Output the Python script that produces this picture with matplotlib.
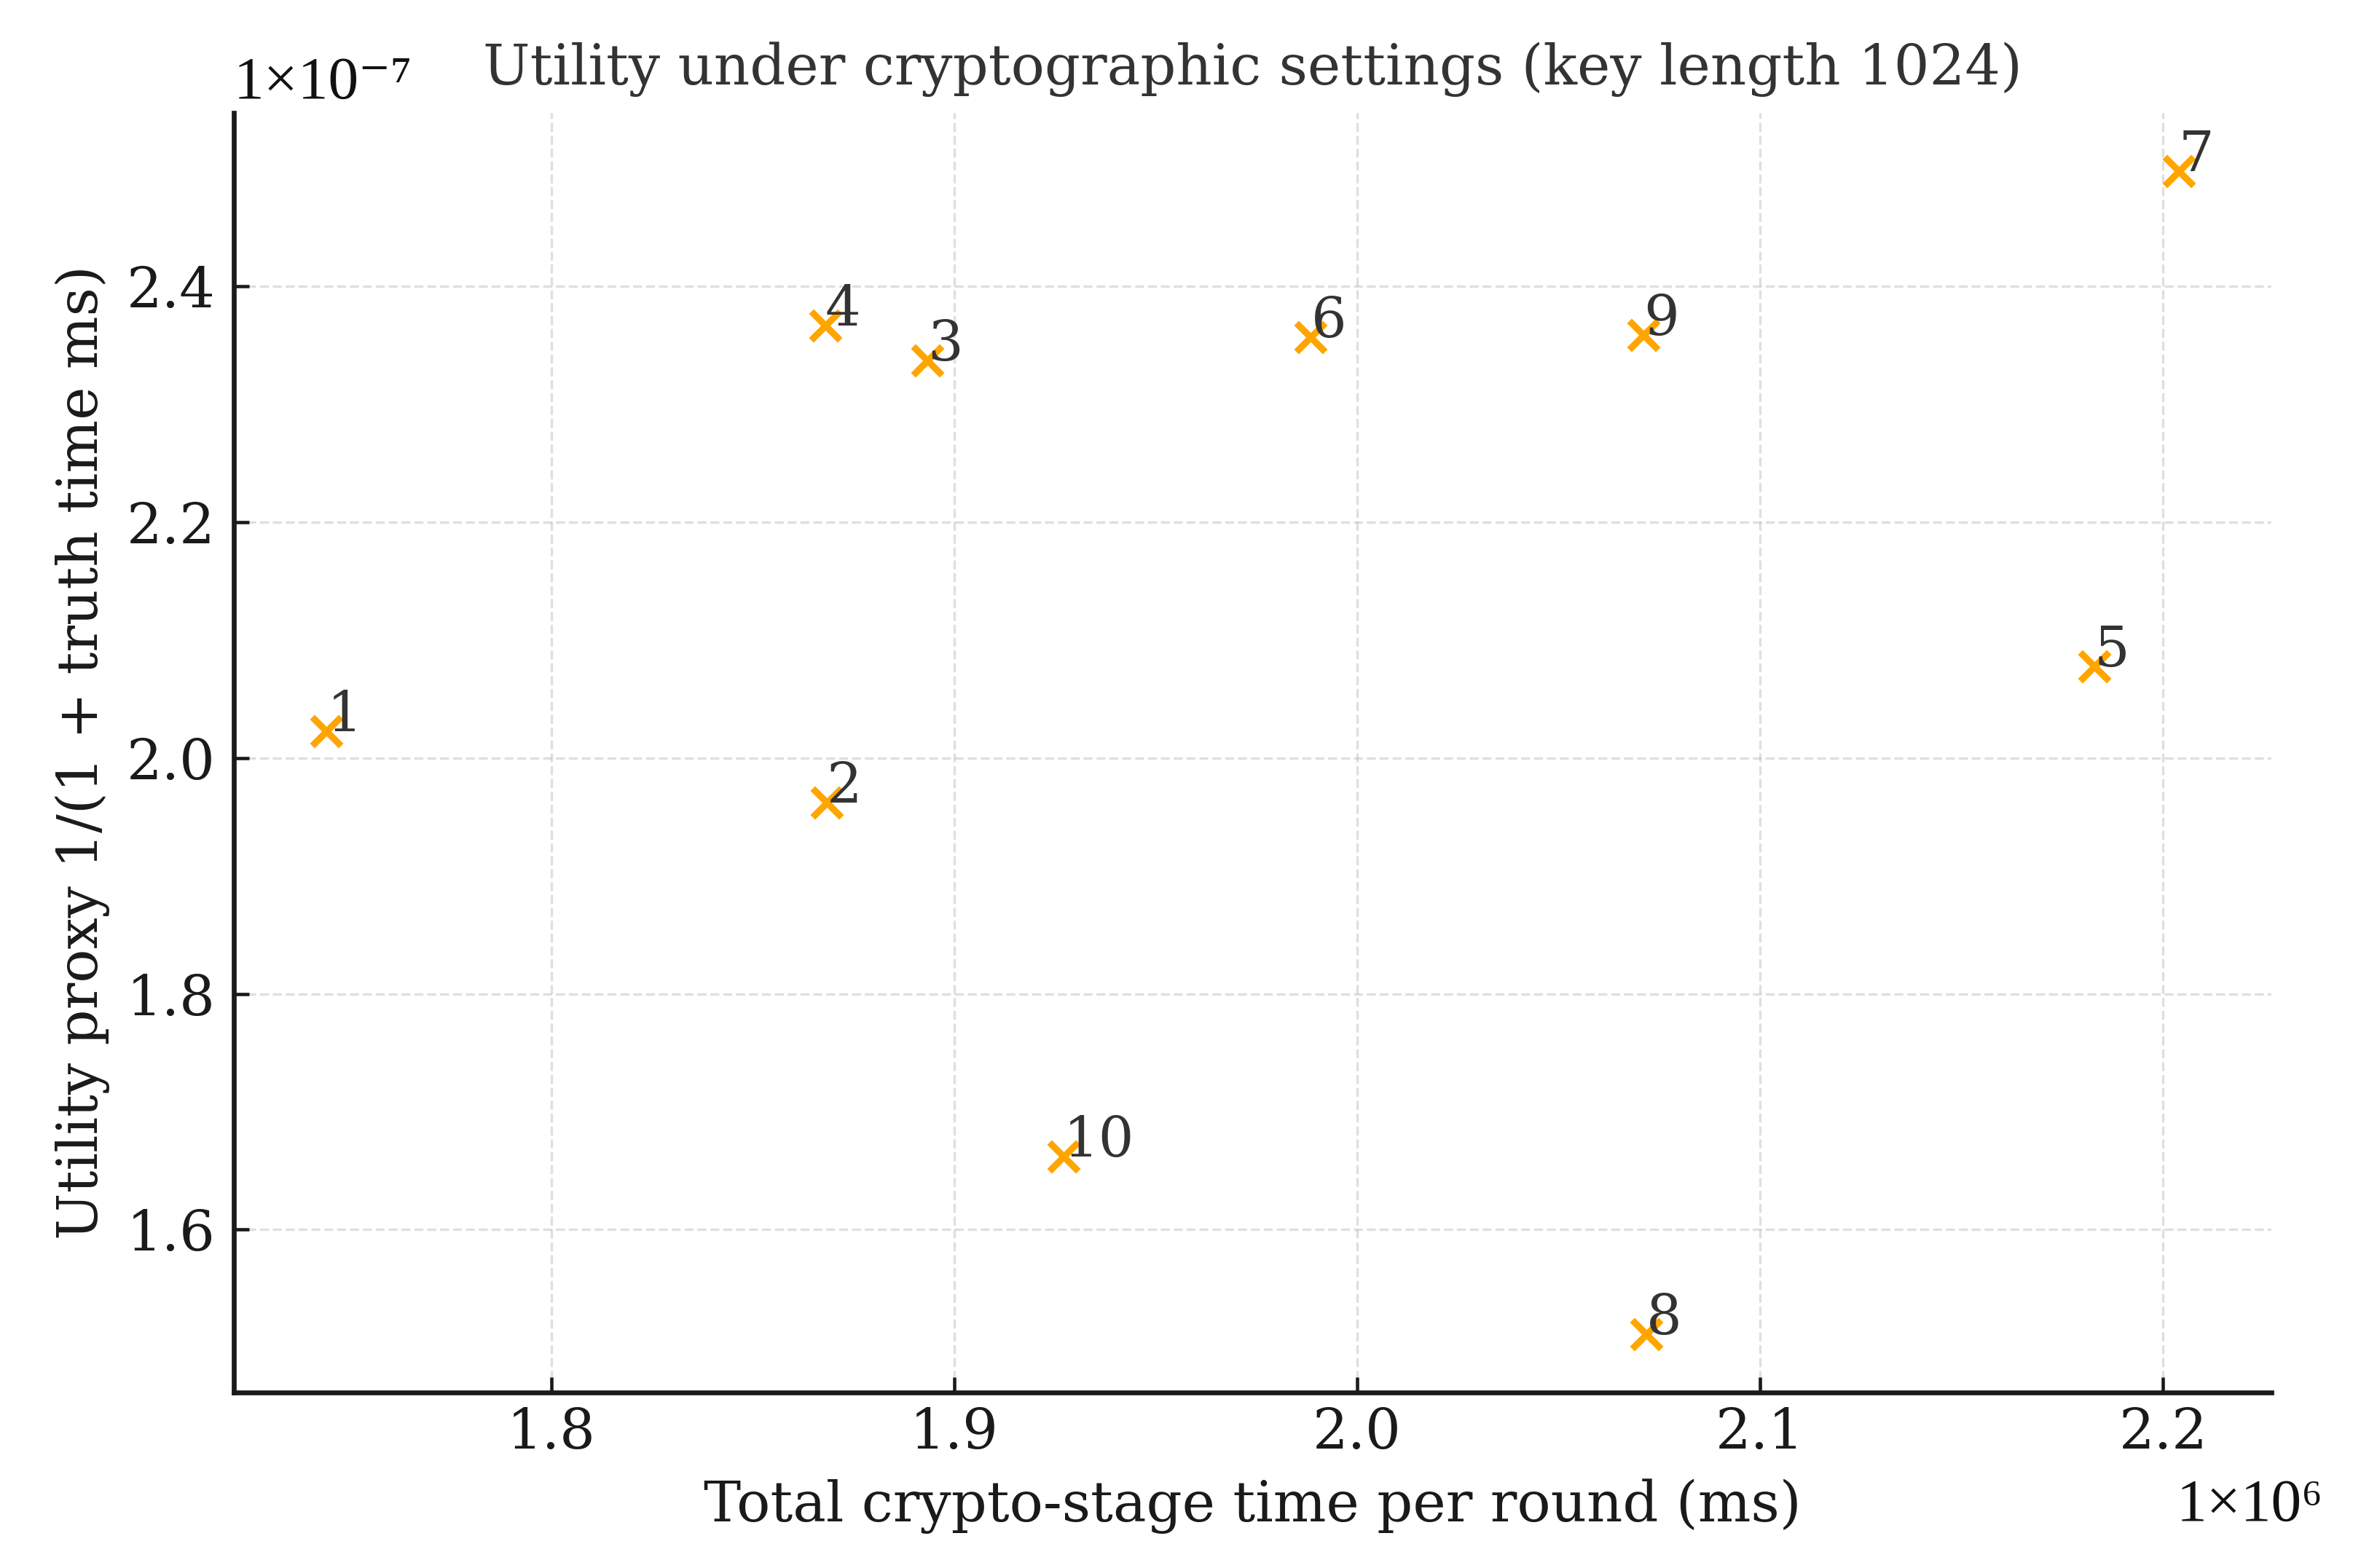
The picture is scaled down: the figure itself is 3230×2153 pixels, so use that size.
import matplotlib
matplotlib.use("Agg")
import matplotlib.pyplot as plt
from matplotlib.ticker import FuncFormatter

# crypto-stage time per round (ms) and utility proxy, key length 1024
run_ids = ["1", "2", "3", "4", "5", "6", "7", "8", "9", "10"]
crypto_time_ms = [1744200, 1868400, 1893300, 1868000, 2182900,
                  1988500, 2203900, 2071700, 2071100, 1927100]
utility = [2.023e-7, 1.962e-7, 2.3375e-7, 2.367e-7, 2.078e-7,
           2.357e-7, 2.498e-7, 1.511e-7, 2.359e-7, 1.662e-7]

plt.rcParams['font.family'] = ['DejaVu Serif', 'DejaVu Sans']
fs = 18.4

fig = plt.figure(figsize=(3230 / 300, 2153 / 300), dpi=300)
ax = fig.add_axes([0.0994, 0.1119, 0.8659, 0.8161])

ax.scatter(crypto_time_ms, utility, marker='x', color='orange', s=90, linewidths=2.2, zorder=3)
for lab, x, y in zip(run_ids, crypto_time_ms, utility):
    ax.text(x, y, lab, color='#333333', fontsize=fs, zorder=4)

ax.set_xticks([1.8e6, 1.9e6, 2.0e6, 2.1e6, 2.2e6])
ax.set_yticks([1.6e-7, 1.8e-7, 2.0e-7, 2.2e-7, 2.4e-7])
ax.xaxis.set_major_formatter(FuncFormatter(lambda v, p: "%.1f" % (v / 1e6)))
ax.yaxis.set_major_formatter(FuncFormatter(lambda v, p: "%.1f" % (v / 1e-7)))

# scale factors, drawn like offset texts
off_font = ['Liberation Serif', 'DejaVu Serif']
ax.text(0.9535, -0.1002, '1×10⁶', transform=ax.transAxes, ha='left', va='baseline',
        fontsize=20, color='#111111', family=off_font)
ax.text(0.0, 1.0114, '1×10⁻⁷', transform=ax.transAxes, ha='left', va='baseline',
        fontsize=20, color='#111111', family=off_font)

ax.grid(True, linestyle='--', linewidth=0.8, color='#b0b0b0', alpha=0.4)
ax.set_axisbelow(True)
for side in ['top', 'right']:
    ax.spines[side].set_visible(False)
for side in ['left', 'bottom']:
    ax.spines[side].set_linewidth(1.6)
    ax.spines[side].set_color('#1a1a1a')
ax.tick_params(direction='in', length=5, width=1.1, colors='#1a1a1a', labelsize=fs)
ax.tick_params(axis='x', pad=4.5)
ax.tick_params(axis='y', pad=6)

ax.set_xlabel('Total crypto-stage time per round (ms)', fontsize=fs, color='#1a1a1a', labelpad=6)
ax.set_ylabel('Utility proxy 1/(1 + truth time ms)', fontsize=fs, color='#1a1a1a', labelpad=5.6)
ax.set_title('Utility under cryptographic settings (key length 1024)', fontsize=fs,
             color='#333333', pad=9.3)

plt.savefig("out.png", dpi=300)
